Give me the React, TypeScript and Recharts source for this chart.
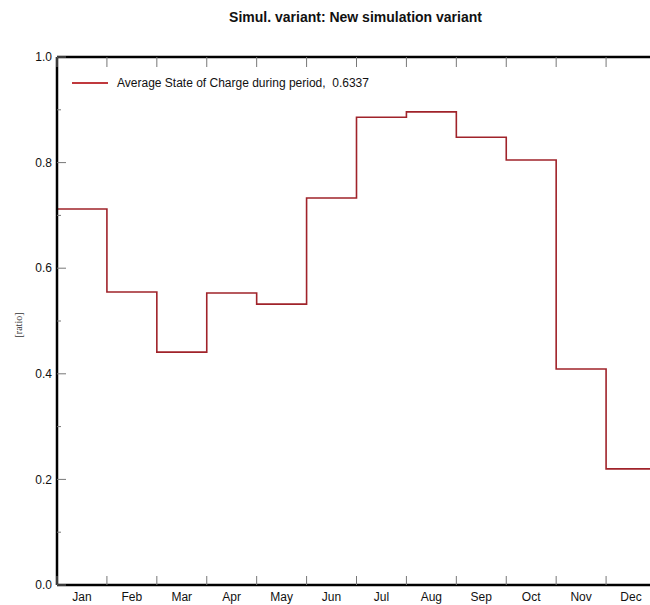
import { LineChart, Line, XAxis, YAxis } from "recharts"

const months = ["Jan", "Feb", "Mar", "Apr", "May", "Jun", "Jul", "Aug", "Sep", "Oct", "Nov", "Dec"]
const socValues = [0.712, 0.555, 0.441, 0.553, 0.532, 0.733, 0.886, 0.896, 0.848, 0.805, 0.409, 0.22]
const boundaryTicks = [0, 1, 2, 3, 4, 5, 6, 7, 8, 9, 10, 11, 12]
const labelTicks = [0.5, 1.5, 2.5, 3.5, 4.5, 5.5, 6.5, 7.5, 8.5, 9.5, 10.5, 11.5]
const yTicks = [0, 0.1, 0.2, 0.3, 0.4, 0.5, 0.6, 0.7, 0.8, 0.9, 1.0]
const yLabels = [0, 0.2, 0.4, 0.6, 0.8, 1.0]
const legendText = "Average State of Charge during period,  0.6337"

// step line needs a closing point at the end of December
const data = [
  ...months.map((m, i) => ({ x: i, soc: socValues[i] })),
  { x: 12, soc: socValues[socValues.length - 1] },
]

const font = "'Liberation Sans', Arial, sans-serif"
const tickColor = "#777"

const isMajor = (v: number) => yLabels.some((l) => Math.abs(l - v) < 1e-6)

const BottomTick = (props: any) => (
  <line x1={props.x} y1={props.y} x2={props.x} y2={props.y - 9} stroke={tickColor} strokeWidth={1} />
)

const TopTick = (props: any) => (
  <line x1={props.x} y1={props.y} x2={props.x} y2={props.y + 10} stroke={tickColor} strokeWidth={1} />
)

const LeftTick = (props: any) => {
  const v = props.payload.value
  const major = isMajor(v)
  return (
    <g>
      <line x1={props.x} y1={props.y} x2={props.x + (major ? 9 : 4)} y2={props.y} stroke={tickColor} strokeWidth={1} />
      {major && (
        <text x={props.x - 5} y={props.y} dy="0.35em" textAnchor="end" fontSize={12} fontFamily={font} fill="#111">
          {v.toFixed(1)}
        </text>
      )}
    </g>
  )
}

const RightTick = (props: any) => {
  const major = isMajor(props.payload.value)
  return (
    <line x1={props.x} y1={props.y} x2={props.x - (major ? 9 : 4)} y2={props.y} stroke={tickColor} strokeWidth={1} />
  )
}

export default function App() {
  return (
    <div style={{ position: "absolute", left: 0, top: 0, width: 650, height: 605, overflow: "hidden", background: "#fff" }}>
      <div
        style={{
          position: "absolute",
          left: 0,
          width: 711,
          top: 9,
          textAlign: "center",
          fontFamily: font,
          fontWeight: "bold",
          fontSize: 14,
          color: "#111",
        }}
      >
        Simul. variant: New simulation variant
      </div>

      <div
        style={{
          position: "absolute",
          left: 18,
          top: 325,
          transform: "translate(-50%, -50%) rotate(-90deg)",
          fontFamily: "'Liberation Serif', 'Times New Roman', serif",
          fontSize: 10,
          color: "#333",
          whiteSpace: "nowrap",
        }}
      >
        [ratio]
      </div>

      <LineChart width={680} height={605} data={data} margin={{ top: 56, right: 23, left: 0, bottom: 0 }}>
        <XAxis
          xAxisId="top"
          orientation="top"
          type="number"
          dataKey="x"
          domain={[0, 12]}
          ticks={boundaryTicks}
          height={1}
          tickSize={0}
          tickMargin={0}
          tick={<TopTick />}
          interval={0}
          axisLine={{ stroke: "#000", strokeWidth: 2.5 }}
        />
        <XAxis
          xAxisId="bottom"
          type="number"
          dataKey="x"
          domain={[0, 12]}
          ticks={boundaryTicks}
          height={1}
          tickSize={0}
          tickMargin={0}
          tick={<BottomTick />}
          interval={0}
          axisLine={{ stroke: "#000", strokeWidth: 2.5 }}
        />
        <XAxis
          xAxisId="labels"
          type="number"
          dataKey="x"
          domain={[0, 12]}
          ticks={labelTicks}
          height={19}
          tickSize={0}
          tickMargin={6}
          axisLine={false}
          tickLine={false}
          tickFormatter={(v: number) => months[Math.floor(v)]}
          tick={{ fontSize: 12, fontFamily: font, fill: "#111" }}
          interval={0}
        />
        <YAxis
          yAxisId="left"
          type="number"
          domain={[0, 1]}
          ticks={yTicks}
          width={57}
          tickSize={0}
          tickMargin={0}
          tick={<LeftTick />}
          interval={0}
          axisLine={{ stroke: "#000", strokeWidth: 2.5 }}
        />
        <YAxis
          yAxisId="right"
          orientation="right"
          type="number"
          domain={[0, 1]}
          ticks={yTicks}
          width={1}
          tickSize={0}
          tickMargin={0}
          tick={<RightTick />}
          interval={0}
          axisLine={{ stroke: "#000", strokeWidth: 2.5 }}
        />
        <Line
          xAxisId="bottom"
          yAxisId="left"
          type="stepAfter"
          dataKey="soc"
          stroke="#a0232a"
          strokeWidth={1.6}
          dot={false}
          isAnimationActive={false}
        />
      </LineChart>

      <div style={{ position: "absolute", left: 72, top: 76, display: "flex", alignItems: "center", fontFamily: font, fontSize: 12, color: "#111" }}>
        <span style={{ display: "inline-block", width: 36, height: 1.5, background: "#c0393d", marginRight: 9 }} />
        <span style={{ whiteSpace: "pre" }}>{legendText}</span>
      </div>
    </div>
  )
}
